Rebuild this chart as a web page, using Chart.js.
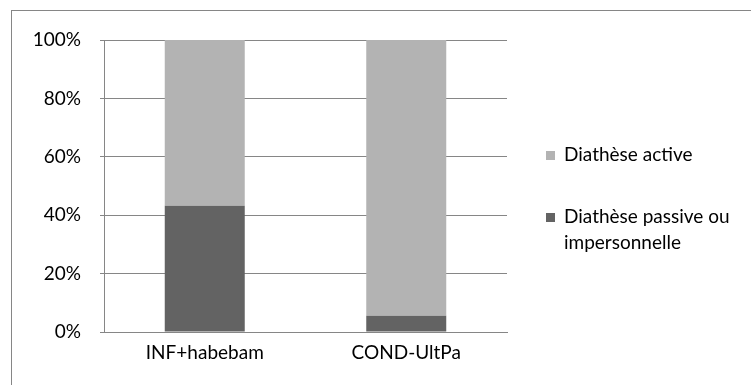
<!DOCTYPE html>
<html>
<head>
<meta charset="utf-8">
<script src="https://cdn.jsdelivr.net/npm/chart.js@4/dist/chart.umd.min.js"></script>
<style>
  html, body { margin: 0; padding: 0; background: #fff; }
  #wrap { width: 751px; height: 385px; position: relative; }
</style>
</head>
<body>
<div id="wrap"><canvas id="chart" width="751" height="385"></canvas></div>
<script>
const categories = ['INF+habebam', 'COND-UltPa'];
const passiveValues = [43.2, 5.6];
const activeValues = [56.8, 94.4];
const yTicks = [0, 20, 40, 60, 80, 100];

const seriesNames = ['Diathèse active', 'Diathèse passive ou impersonnelle'];
const FONT = 'Lato, "Noto Sans", sans-serif';
const lineGray = '#868686';
const textColor = '#000';

// outer frame + right-hand legend drawn straight onto the canvas
const framePlugin = {
    id: 'frame',
    afterDraw(chart) {
        const ctx = chart.ctx;
        ctx.save();
        ctx.strokeStyle = lineGray;
        ctx.lineWidth = 1;
        ctx.strokeRect(11.5, 10.5, 900, 900);

        const x = chart.chartArea.right + 39;
        const items = [
            { ds: chart.data.datasets[1], lines: ['Diathèse active'], y: 155 },
            { ds: chart.data.datasets[0], lines: ['Diathèse passive ou', 'impersonnelle'], y: 217 }
        ];
        ctx.font = '19px ' + FONT;
        ctx.textBaseline = 'middle';
        items.forEach(it => {
            ctx.fillStyle = it.ds.backgroundColor;
            ctx.fillRect(x, it.y - 4, 9, 9);
            ctx.fillStyle = textColor;
            it.lines.forEach((l, i) => ctx.fillText(l, x + 18, it.y + i * 26));
        });
        ctx.restore();
    }
};

new Chart(document.getElementById('chart'), {
    type: 'bar',
    data: {
        labels: categories,
        datasets: [
            {
                label: seriesNames[1],
                data: passiveValues,
                backgroundColor: '#636363',
                categoryPercentage: 1,
                barPercentage: 0.397
            },
            {
                label: seriesNames[0],
                data: activeValues,
                backgroundColor: '#b3b3b3',
                categoryPercentage: 1,
                barPercentage: 0.397
            }
        ]
    },
    options: {
        responsive: false,
        animation: false,
        layout: { padding: { left: 0, right: 244, top: 40, bottom: 0 } },
        plugins: {
            legend: { display: false },
            tooltip: { enabled: false }
        },
        scales: {
            x: {
                stacked: true,
                grid: { display: false, drawTicks: false },
                border: { color: lineGray },
                ticks: { color: textColor, font: { family: FONT, size: 19 }, padding: 9 },
                afterFit: s => { s.height = 53; }
            },
            y: {
                stacked: true,
                min: 0,
                max: 100,
                afterBuildTicks: s => { s.ticks = yTicks.map(v => ({ value: v })); },
                grid: { color: lineGray, tickLength: 4, tickColor: lineGray },
                border: { color: lineGray },
                ticks: {
                    color: textColor,
                    font: { family: FONT, size: 19 },
                    padding: 19,
                    callback: v => v + '%'
                },
                afterFit: s => { s.width = 104; }
            }
        }
    },
    plugins: [framePlugin]
});
</script>
</body>
</html>
